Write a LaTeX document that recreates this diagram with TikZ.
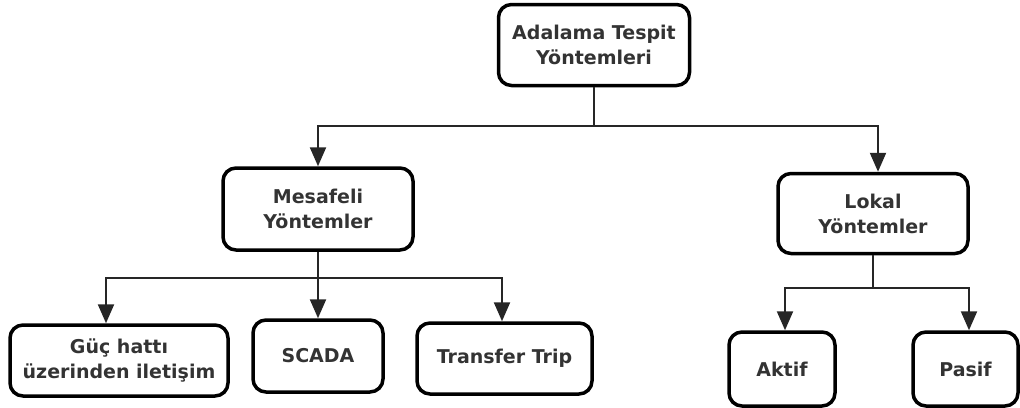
\documentclass[tikz,border=0pt]{standalone}
\usepackage{fontspec}
\setmainfont{DejaVu Sans}
\usepackage{xcolor}
\usetikzlibrary{arrows.meta}
\definecolor{boxtext}{HTML}{333333}

\begin{document}
\begin{tikzpicture}[x=1pt, y=-1pt,
    kutu/.style={draw=black, line width=3.5pt, rounded corners=13pt, align=center,
        inner sep=0pt, text=boxtext,
        font=\fontsize{19}{25}\selectfont\bfseries},
    baglanti/.style={draw=black!85, line width=2.2pt},
    ok/.style={baglanti, -{Triangle[width=16pt,length=19pt]}}]
\useasboundingbox (0,0) rectangle (1020,407);

\node[kutu, minimum width=191pt, minimum height=81pt] (kok) at (594,45) {Adalama Tespit\\Yöntemleri};
\node[kutu, minimum width=190pt, minimum height=82pt] (mesafeli) at (318,209) {Mesafeli\\Yöntemler};
\node[kutu, minimum width=190pt, minimum height=80pt] (lokal) at (873,213.5) {Lokal\\Yöntemler};
\node[kutu, minimum width=218pt, minimum height=71pt] (guc) at (119,360.5) {Güç hattı\\üzerinden iletişim};
\node[kutu, minimum width=130pt, minimum height=72pt] (scada) at (318,356) {SCADA};
\node[kutu, minimum width=175pt, minimum height=71pt] (transfer) at (504.5,358.5) {Transfer Trip};
\node[kutu, minimum width=106pt, minimum height=74pt] (aktif) at (782,369) {Aktif};
\node[kutu, minimum width=105pt, minimum height=74pt] (pasif) at (965.5,369) {Pasif};

% dagitim hatlari
\coordinate (kokhat) at (594,126);
\coordinate (meshat) at (318,278);
\coordinate (lokhat) at (873,288);

\draw[baglanti] (kok.south) -- (kokhat);
\draw[ok] (kokhat) -| (mesafeli.north);
\draw[ok] (kokhat) -| ([xshift=5pt]lokal.north);

\draw[baglanti] (mesafeli.south) -- (meshat);
\draw[ok] (meshat) -| ([xshift=-13pt]guc.north);
\draw[ok] (meshat) -- (scada.north);
\draw[ok] (meshat) -| ([xshift=-2.5pt]transfer.north);

\draw[baglanti] (lokal.south) -- (lokhat);
\draw[ok] (lokhat) -| ([xshift=3pt]aktif.north);
\draw[ok] (lokhat) -| ([xshift=3.5pt]pasif.north);
\end{tikzpicture}
\end{document}
